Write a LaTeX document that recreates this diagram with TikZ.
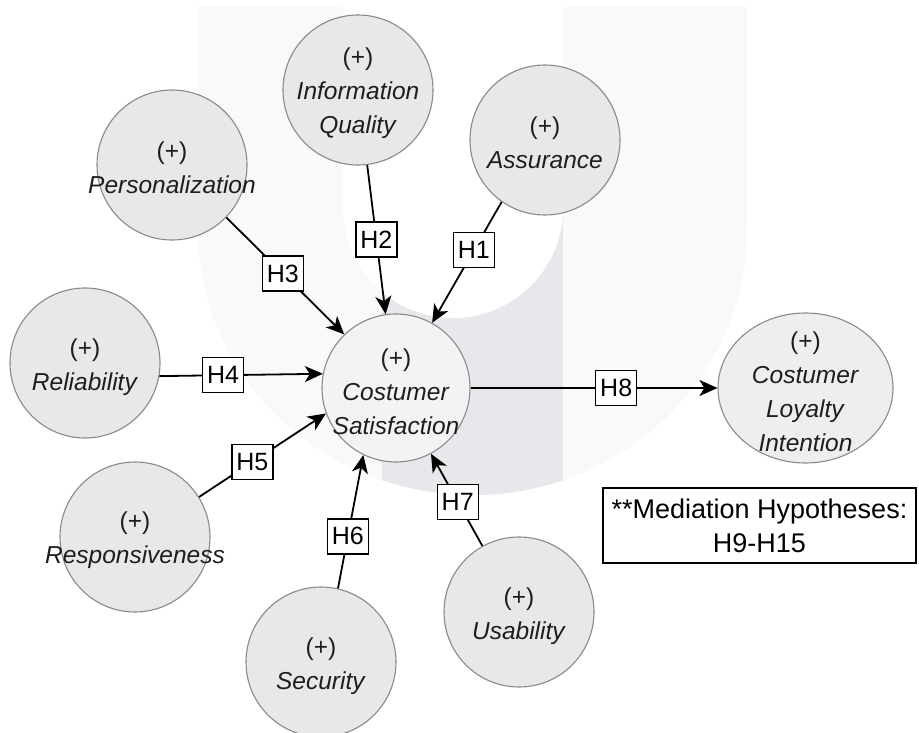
\documentclass[tikz,border=0pt]{standalone}
\usepackage{fontspec}
\setmainfont{Liberation Sans}
\usepackage{tikz}
\usetikzlibrary{arrows.meta,shapes,backgrounds,calc}

\definecolor{factorfill}{HTML}{E8E8E8}
\definecolor{factorline}{HTML}{8A8A8A}
\definecolor{centrefill}{HTML}{F3F3F3}
\definecolor{loyalfill}{HTML}{EEEEEE}
\definecolor{wmlight}{HTML}{F9F9F9}
\definecolor{wmdark}{HTML}{E8E8EC}
\definecolor{txtgray}{HTML}{1E1E1E}

\tikzset{
  factor/.style={draw=factorline,fill=factorfill,circle,line width=1.1pt,inner sep=0pt,minimum size=150pt},
  ftext/.style={align=center,text=txtgray,inner sep=0pt,font=\fontsize{24.5}{34}\selectfont},
  hyp/.style={line width=1.8pt,-{Stealth[length=18pt,width=16pt,inset=5pt]}},
  hbox/.style={draw,fill=white,line width=1.4pt,inner sep=0pt,minimum width=41pt,minimum height=35pt,font=\fontsize{25}{30}\selectfont},
}

\begin{document}
\begin{tikzpicture}[x=1pt,y=-1pt]
\useasboundingbox (0,0) rectangle (919,733);

\fill[wmlight] (198,7) -- (198,230) arc[start angle=180,end angle=0,x radius=274.5,y radius=265] -- (747,7) -- cycle;
\begin{scope}
\clip (198,7) -- (198,230) arc[start angle=180,end angle=0,x radius=274.5,y radius=265] -- (747,7) -- cycle;
\fill[wmdark] (382,200) rectangle (563,520);
\end{scope}
\fill[white] (343,-1) -- (343,208) arc[start angle=180,end angle=0,radius=110] -- (563,-1) -- cycle;

\node[factor] (infq) at (358,90) {};
\node[factor] (asr) at (545,140) {};
\node[factor] (pers) at (172,165) {};
\node[factor] (rel) at (85,363) {};
\node[factor] (resp) at (135,537) {};
\node[factor] (sec) at (321,662) {};
\node[factor] (usab) at (519,612) {};
\node[factor,fill=centrefill,minimum size=148pt] (cs) at (396,388) {};
\node[draw=factorline,fill=loyalfill,ellipse,line width=1.1pt,inner sep=0pt,minimum width=175pt,minimum height=150pt] (loy) at (805.5,388) {};

\node[ftext] (infqt) at ($(infq)+(0,3)$) {(+)\\\textit{Information}\\\textit{Quality}};
\node[ftext] (asrt) at ($(asr)+(0,3)$) {(+)\\\textit{Assurance}};
\node[ftext] (perst) at ($(pers)+(0,3)$) {(+)\\\textit{Personalization}};
\node[ftext] (relt) at ($(rel)+(0,4)$) {(+)\\\textit{Reliability}};
\node[ftext] (respt) at ($(resp)+(0,3)$) {(+)\\\textit{Responsiveness}};
\node[ftext] (sect) at ($(sec)+(0,4)$) {(+)\\\textit{Security}};
\node[ftext] (usabt) at ($(usab)+(0,4)$) {(+)\\\textit{Usability}};
\node[ftext] (cst) at ($(cs)+(0,4)$) {(+)\\\textit{Costumer}\\\textit{Satisfaction}};
\node[ftext] (loyt) at ($(loy)+(0,4)$) {(+)\\\textit{Costumer}\\\textit{Loyalty}\\\textit{Intention}};

\draw[hyp] (asr.235) -- node[hbox,pos=0.40] (h1) {H1} (cs.61);
\draw[hyp] (infq.-83) -- node[hbox,pos=0.50] (h2) {H2} (cs.98);
\draw[hyp] (pers.-44) -- node[hbox,pos=0.48] (h3) {H3} (cs.134.5);
\draw[hyp] (rel.-10.6) -- node[hbox,pos=0.39] (h4) {H4} (cs.169);
\draw[hyp] (resp.32.4) -- node[hbox,pos=0.42] (h5) {H5} (cs.200.8);
\draw[hyp] (sec.77.8) -- node[hbox,pos=0.39] (h6) {H6} (cs.244.7);
\draw[hyp] (usab.119.6) -- node[hbox,pos=0.48] (h7) {H7} (cs.298);
\draw[hyp] (cs.east) -- node[hbox,pos=0.59] (h8) {H8} (loy.west);

\node[draw,fill=white,line width=1.4pt,minimum width=313pt,minimum height=75pt,align=center,font=\fontsize{27}{34}\selectfont] (med) at (759.5,525.5) {**Mediation Hypotheses:\\H9-H15};
\end{tikzpicture}
\end{document}
